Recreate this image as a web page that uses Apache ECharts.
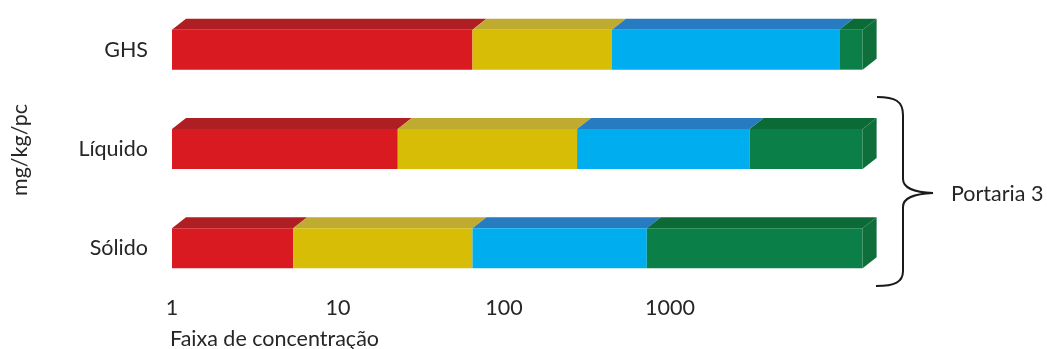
<!DOCTYPE html>
<html>
<head>
<meta charset="utf-8">
<script src="https://cdn.jsdelivr.net/npm/echarts@6/dist/echarts.min.js"></script>
<style>
html,body{margin:0;padding:0;background:#fff;}
#chart{width:1047px;height:349px;}
</style>
</head>
<body>
<div id="chart"></div>
<script>
// Categories (bottom to top)
const categories = ['Sólido', 'Líquido', 'GHS'];
// Segment end positions, in decades (log10 of mg/kg/pc), per category
const classI   = [0.73, 1.36, 1.81];
const classII  = [1.81, 2.44, 2.65];
const classIII = [2.86, 3.48, 4.02];
const classIV  = [4.16, 4.16, 4.16];
// Tick values (log10) shown as 1, 10, 100, 1000
const tickDecades = [0, 1, 2, 3];

const FONT = 'Lato';
const FS = 21.5;
const frontColors = ['#DA1A21', '#D7BD06', '#00ADEF', '#0A8048'];
const topColors   = ['#AF1E23', '#BEAB30', '#277BC0', '#0C6A37'];
const sideColor   = '#0F6F3A';

const classes = [classI, classII, classIII, classIV];

function buildData(idx) {
  return categories.map((c, i) => {
    const start = idx === 0 ? 0 : classes[idx - 1][i];
    return [i, start, classes[idx][i]];
  });
}

function makeRender(idx) {
  return function (params, api) {
    const cat = api.value(0), s = api.value(1), e = api.value(2);
    const p0 = api.coord([s, cat]);
    const p1 = api.coord([e, cat]);
    const h = 40, dx = 14, dy = 11;
    const x0 = p0[0], x1 = p1[0];
    const yT = p0[1] - h / 2, yB = p0[1] + h / 2;
    const children = [
      { type: 'polygon', shape: { points: [[x0, yT], [x0 + dx, yT - dy], [x1 + dx, yT - dy], [x1, yT]] },
        style: { fill: topColors[idx] } },
      { type: 'rect', shape: { x: x0, y: yT, width: x1 - x0, height: h },
        style: { fill: frontColors[idx] } }
    ];
    if (idx === classes.length - 1) {
      children.push({ type: 'polygon', shape: { points: [[x1, yT], [x1 + dx, yT - dy], [x1 + dx, yB - dy], [x1, yB]] },
        style: { fill: sideColor } });
    }
    return { type: 'group', children: children };
  };
}

const chart = echarts.init(document.getElementById('chart'), null, { renderer: 'canvas' });

const series = classes.map((c, idx) => ({
  type: 'custom',
  name: 'Classe ' + (idx + 1),
  renderItem: makeRender(idx),
  encode: { x: [1, 2], y: 0 },
  data: buildData(idx),
  clip: false,
  silent: true
}));

const braceStyle = { stroke: '#1a1a1a', lineWidth: 2, fill: null };

chart.setOption({
  animation: false,
  backgroundColor: '#ffffff',
  grid: { left: 172, right: 184.4, top: -2, height: 300 },
  xAxis: {
    type: 'value', min: 0, max: 4.16, interval: 1,
    axisLine: { show: false }, axisTick: { show: false }, splitLine: { show: false },
    axisLabel: {
      color: '#262626', fontFamily: FONT, fontSize: FS, margin: -1,
      showMaxLabel: false,
      formatter: v => tickDecades.indexOf(v) >= 0 ? String(Math.round(Math.pow(10, v))) : ''
    }
  },
  yAxis: {
    type: 'category', data: categories,
    axisLine: { show: false }, axisTick: { show: false }, splitLine: { show: false },
    axisLabel: { color: '#262626', fontFamily: FONT, fontSize: FS, margin: 24 }
  },
  graphic: [
    { type: 'text', x: 20, y: 150, rotation: Math.PI / 2,
      style: { text: 'mg/kg/pc', fill: '#262626', font: FS + 'px ' + FONT, align: 'center', verticalAlign: 'middle' } },
    { type: 'text', x: 170, y: 339,
      style: { text: 'Faixa de concentração', fill: '#262626', font: FS + 'px ' + FONT, align: 'left', verticalAlign: 'middle' } },
    { type: 'bezierCurve', shape: { x1: 877, y1: 97, cpx1: 895, cpy1: 97, cpx2: 903, cpy2: 101, x2: 903, y2: 115 }, style: braceStyle },
    { type: 'line', shape: { x1: 903, y1: 115, x2: 903, y2: 179 }, style: braceStyle },
    { type: 'bezierCurve', shape: { x1: 903, y1: 179, cpx1: 903, cpy1: 188, cpx2: 913, cpy2: 192, x2: 933, y2: 193 }, style: braceStyle },
    { type: 'bezierCurve', shape: { x1: 933, y1: 193, cpx1: 913, cpy1: 194, cpx2: 903, cpy2: 198, x2: 903, y2: 207 }, style: braceStyle },
    { type: 'line', shape: { x1: 903, y1: 207, x2: 903, y2: 271 }, style: braceStyle },
    { type: 'bezierCurve', shape: { x1: 903, y1: 271, cpx1: 903, cpy1: 282, cpx2: 895, cpy2: 286, x2: 876, y2: 286 }, style: braceStyle },
    { type: 'text', x: 951, y: 194,
      style: { text: 'Portaria 3', fill: '#262626', font: FS + 'px ' + FONT, align: 'left', verticalAlign: 'middle' } }
  ],
  series: series
});
</script>
</body>
</html>
